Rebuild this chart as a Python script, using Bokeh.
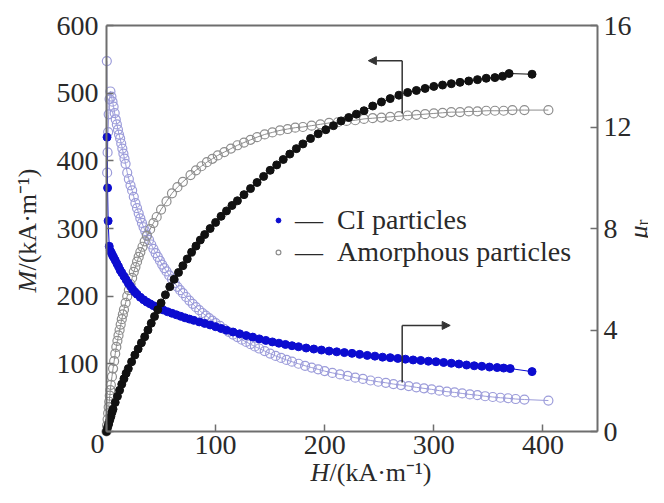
import math
from bokeh.plotting import figure
from bokeh.models import (Range1d, LinearAxis, Label, Arrow, NormalHead, Legend,
                          LegendItem, FixedTicker)
from bokeh.embed import file_html
from bokeh.resources import INLINE

# ---------------- data ----------------
# CI particles: magnetization M (left axis)
h_ci_m = [0, 1, 2, 3, 4, 5, 6, 8, 10, 12, 14, 16, 18, 20, 23, 26, 29, 32, 35, 38,
          41, 44, 47, 50, 54, 58, 62, 66, 70, 74, 78, 82, 86, 90, 95, 100, 105, 110,
          115, 120, 126, 132, 138, 144, 150, 156, 162, 168, 174, 180, 187, 194, 201,
          208, 215, 222, 229, 236, 244, 252, 260, 268, 276, 284, 292, 300, 308, 316,
          324, 332, 340, 348, 356, 363, 369, 390]
m_ci = [0, 6, 11, 17, 22, 28, 33, 43, 52, 61, 70, 78, 86, 93, 103, 113, 122, 131, 140,
        150, 160, 170, 180, 190, 202, 214, 225, 235, 245, 255, 265, 274, 283, 291, 300,
        309, 318, 326, 334, 341, 350, 359, 368, 377, 386, 394, 402, 410, 418, 425, 433,
        440, 446, 452, 459, 464, 469, 474, 481, 487, 492, 497, 501, 504, 507, 510, 512,
        514, 516, 518, 520, 522, 523, 525, 529, 528]

# Amorphous particles: magnetization M (left axis)
h_am_m = [0, 0.5, 1, 1.5, 2, 2.5, 3, 3.5, 4, 5, 6, 7, 8, 9, 10, 11, 12, 13, 14, 15, 16,
          17.5, 19, 20.5, 22, 23.5, 25, 26.5, 28, 29.5, 31, 33, 35, 37, 40, 43, 46, 50,
          55, 60, 65, 70, 77, 82, 87, 92, 97, 102, 108, 114, 120, 126, 132, 138, 145,
          152, 159, 166, 173, 180, 188, 196, 204, 212, 220, 228, 236, 244, 252, 260,
          268, 276, 284, 292, 300, 308, 316, 324, 332, 340, 348, 356, 364, 372, 383, 405]
m_am = [0, 9, 18, 27, 36, 44, 53, 61, 69, 81, 93, 104, 115, 125, 134, 142, 150, 158, 166,
        173, 180, 190, 200, 209, 218, 227, 236, 243, 251, 258, 265, 273, 281, 289, 299,
        308, 317, 328, 340, 352, 361, 369, 379, 386, 392, 398, 403, 408, 413, 418, 423,
        427, 431, 435, 439, 442, 445, 447, 449, 450, 452, 454, 456, 457, 459, 460, 462,
        463, 464, 465, 466, 467, 468, 469, 470, 471, 472, 472, 473, 473, 474, 474, 474,
        475, 475, 475]

# CI particles: relative permeability mu_r (right axis)
h_ci_mu = [0.5, 1, 1.5, 2.5, 3.5, 4.5, 5.5, 6.5, 8, 9.5, 11, 12.5, 14, 16, 18, 20,
           22, 24, 26, 28, 31, 34, 37, 40, 43, 46, 49, 52, 56, 60, 64, 68, 72, 76, 80,
           85, 90, 95, 100, 105, 110, 116, 122, 128, 134, 140, 146, 152, 158, 164, 170,
           176, 183, 190, 197, 204, 211, 218, 225, 232, 239, 246, 253, 260, 267, 274,
           281, 288, 295, 302, 309, 316, 323, 330, 337, 344, 351, 358, 364, 370, 390]
mu_ci = [11.6, 9.6, 8.3, 7.3, 7.12, 7.04, 6.95, 6.87, 6.75, 6.62, 6.5, 6.36, 6.26,
         6.12, 5.98, 5.84, 5.72, 5.6, 5.5, 5.41, 5.29, 5.19, 5.1, 5.03, 4.96, 4.9, 4.85,
         4.79, 4.72, 4.66, 4.6, 4.54, 4.48, 4.43, 4.38, 4.32, 4.26, 4.2, 4.13, 4.06, 3.99,
         3.92, 3.85, 3.78, 3.72, 3.65, 3.59, 3.53, 3.48, 3.43, 3.38, 3.34, 3.29, 3.25,
         3.21, 3.17, 3.14, 3.11, 3.08, 3.04, 3.0, 2.97, 2.93, 2.91, 2.88, 2.85, 2.82, 2.8,
         2.77, 2.75, 2.72, 2.69, 2.66, 2.62, 2.59, 2.57, 2.54, 2.52, 2.5, 2.48, 2.36]

# Amorphous particles: relative permeability mu_r (right axis)
h_am_mu = [0.3, 0.6, 1.0, 1.5, 2.0, 2.8, 3.6, 4.5, 5.5, 6.5, 7.5, 8.5, 9.5, 10.5, 11.5,
           12.5, 13.5, 14.5, 15.5, 16.5, 17.5, 19, 20.5, 22, 23.5, 25, 26.5, 28, 29.5, 31,
           32.5, 34, 35.5, 37, 39, 41, 43, 45, 47, 49, 51, 53, 55, 57.5, 60, 62.5, 65,
           67.5, 70, 73, 76, 79, 82, 85, 88, 91, 94, 97, 100, 104, 108, 112, 116, 120,
           124, 128, 132, 136, 140, 145, 150, 155, 160, 165, 170, 176, 182, 188, 194,
           200, 207, 214, 221, 228, 235, 242, 249, 256, 263, 270, 277, 284, 291, 298,
           305, 312, 319, 326, 333, 340, 347, 354, 361, 368, 375, 383, 405]
mu_am = [14.6, 10.2, 11.0, 11.8, 12.5, 13.1, 13.4, 13.2, 13.0, 12.8, 12.55, 12.3, 12.1,
         11.9, 11.7, 11.55, 11.35, 11.15, 10.95, 10.75, 10.55, 10.2, 9.95, 9.7, 9.5, 9.25,
         9.0, 8.8, 8.6, 8.4, 8.22, 8.05, 7.9, 7.75, 7.55, 7.37, 7.2, 7.03, 6.88, 6.73,
         6.58, 6.44, 6.31, 6.15, 6.0, 5.85, 5.7, 5.57, 5.45, 5.3, 5.16, 5.03, 4.9, 4.78,
         4.67, 4.57, 4.47, 4.37, 4.27, 4.16, 4.04, 3.93, 3.82, 3.72, 3.62, 3.53, 3.44,
         3.35, 3.27, 3.17, 3.07, 2.98, 2.9, 2.82, 2.75, 2.67, 2.59, 2.52, 2.45, 2.38,
         2.31, 2.25, 2.19, 2.12, 2.07, 2.01, 1.96, 1.92, 1.87, 1.83, 1.79, 1.74, 1.7,
         1.66, 1.61, 1.57, 1.54, 1.5, 1.46, 1.43, 1.39, 1.36, 1.33, 1.31, 1.28, 1.26, 1.22]

x_ticks = [0, 100, 200, 300, 400]
m_ticks = [0, 100, 200, 300, 400, 500, 600]
mu_ticks = [0, 4, 8, 12, 16]
legend_labels = ["CI particles", "Amorphous particles"]

# axis extents of the plotted box (data units)
H_MAX = 450
M_MAX = 600
MU_MAX = 16

# ---------------- layout: the frame fills the canvas, axes sit at fixed spots ----
W, HGT = 648, 487
BOX_L, BOX_R, BOX_T, BOX_B = 106, 597, 25, 431          # box edges in canvas px
kx = (BOX_R - BOX_L) / H_MAX
ky = (BOX_B - BOX_T) / M_MAX
x0 = -BOX_L / kx
x1 = (W - BOX_L) / kx
y0 = -(HGT - BOX_B) / ky
y1 = BOX_B / ky
mu_per_m = MU_MAX / M_MAX

FONT = "Liberation Serif"
TXT = "#2a2a2a"
AX = "#6e6e6e"
BLUE = "#0c0cd0"
LAV = "#9c9cda"
GRAY = "#8e8e8e"
BLACK = "#111111"
TICK_FS = "28px"

p = figure(width=W, height=HGT, output_backend="svg", toolbar_location=None,
           x_range=Range1d(x0, x1), y_range=Range1d(y0, y1),
           x_axis_location=None, y_axis_location=None,
           min_border=0, min_border_left=0, min_border_right=0,
           min_border_top=0, min_border_bottom=0)
p.title.visible = False
p.grid.visible = False
p.outline_line_color = None
p.background_fill_color = "white"
p.border_fill_color = "white"
p.extra_y_ranges = {"mu": Range1d(y0 * mu_per_m, y1 * mu_per_m)}

bottom_axis = LinearAxis(fixed_location=0, bounds=(0, H_MAX),
                         ticker=FixedTicker(ticks=x_ticks),
                         major_label_overrides={0: ""})
left_axis = LinearAxis(fixed_location=0, bounds=(0, M_MAX),
                       ticker=FixedTicker(ticks=m_ticks),
                       major_label_overrides={0: ""})
right_axis = LinearAxis(y_range_name="mu", fixed_location=H_MAX, bounds=(0, MU_MAX),
                        ticker=FixedTicker(ticks=mu_ticks))
top_axis = LinearAxis(fixed_location=M_MAX, bounds=(0, H_MAX),
                      ticker=FixedTicker(ticks=[]))
p.add_layout(bottom_axis, "below")
p.add_layout(left_axis, "left")
p.add_layout(right_axis, "right")
p.add_layout(top_axis, "above")

for ax in [bottom_axis, left_axis, right_axis, top_axis]:
    ax.axis_line_color = AX
    ax.axis_line_width = 2
    ax.major_tick_line_color = AX
    ax.major_tick_line_width = 1.5
    ax.major_tick_in = 7
    ax.major_tick_out = 0
    ax.minor_tick_in = 0
    ax.minor_tick_out = 0
    ax.major_label_text_font = FONT
    ax.major_label_text_font_size = TICK_FS
    ax.major_label_text_color = TXT
top_axis.major_tick_line_color = None
bottom_axis.major_label_standoff = 4
left_axis.major_label_standoff = 8
right_axis.major_label_standoff = 6

# ---------------- series ----------------
p.line(h_am_mu, mu_am, y_range_name="mu", line_color=LAV, line_width=1)
r_am_mu = p.scatter(h_am_mu, mu_am, y_range_name="mu", marker="circle", size=9,
                    fill_color=None, line_color=LAV, line_width=1.2)
p.line(h_am_m, m_am, line_color=GRAY, line_width=1)
r_am_m = p.scatter(h_am_m, m_am, marker="circle", size=9, fill_color=None,
                   line_color=GRAY, line_width=1.2)
p.line(h_ci_mu, mu_ci, y_range_name="mu", line_color=BLUE, line_width=1)
r_ci_mu = p.scatter(h_ci_mu, mu_ci, y_range_name="mu", marker="circle", size=8,
                    fill_color=BLUE, line_color=BLUE)
p.line(h_ci_m, m_ci, line_color=BLACK, line_width=1)
r_ci_m = p.scatter(h_ci_m, m_ci, marker="circle", size=8, fill_color=BLACK,
                   line_color=BLACK)

# ---------------- legend ----------------
legend = Legend(items=[LegendItem(label="\u2014\u2002" + legend_labels[0], renderers=[r_ci_mu]),
                       LegendItem(label="\u2014\u2002" + legend_labels[1], renderers=[r_am_m])],
                location=(272, 219), padding=0, margin=0, spacing=-6,
                glyph_width=12, glyph_height=20, label_standoff=11,
                label_text_font=FONT, label_text_font_size="28px",
                label_text_color=TXT, border_line_color=None,
                background_fill_alpha=0)
p.add_layout(legend)

# ---------------- arrows ----------------
head = dict(size=8, fill_color="#333333", line_color="#333333")
p.add_layout(Arrow(end=None, x_start=271, y_start=470, x_end=271, y_end=548,
                   line_color="#333333", line_width=1.5))
p.add_layout(Arrow(end=NormalHead(**head), x_start=271, y_start=548, x_end=240, y_end=548,
                   line_color="#333333", line_width=1.5))
p.add_layout(Arrow(end=None, x_start=271, y_start=1.93, x_end=271, y_end=4.18,
                   y_range_name="mu", line_color="#333333", line_width=1.5))
p.add_layout(Arrow(end=NormalHead(**head), x_start=271, y_start=4.18, x_end=315, y_end=4.18,
                   y_range_name="mu", line_color="#333333", line_width=1.5))

# ---------------- axis titles ----------------
def lab(**kw):
    base = dict(text_font=FONT, text_color=TXT)
    base.update(kw)
    p.add_layout(Label(**base))

# shared corner zero
lab(x=-8.25, y=-19.2, text="0", text_font_size=TICK_FS, text_align="center",
    text_baseline="middle")
# x title
lab(x=187, y=-61, text="H", text_font_size="26px", text_font_style="italic",
    text_align="left", text_baseline="alphabetic")
lab(x=204.4, y=-61, text="/(kA\u00b7m\u207b\u00b9)", text_font_size="26px",
    text_align="left", text_baseline="alphabetic")
# left title (rotated)
lab(x=-72, y=205.4, text="M", text_font_size="26px", text_font_style="italic",
    angle=math.pi / 2, text_align="left", text_baseline="alphabetic")
lab(x=-72, y=237.9, text="/(kA\u00b7m\u207b\u00b9)", text_font_size="26px",
    angle=math.pi / 2, text_align="left", text_baseline="alphabetic")
# right title (rotated)
lab(x=487.5, y=7.61, y_range_name="mu", text="\u03bc", text_font_size="26px",
    text_font_style="italic", angle=math.pi / 2, text_align="left",
    text_baseline="alphabetic")
lab(x=491.5, y=8.12, y_range_name="mu", text="r", text_font_size="18px",
    angle=math.pi / 2, text_align="left", text_baseline="alphabetic")

open("out.html", "w").write(file_html(p, INLINE))
